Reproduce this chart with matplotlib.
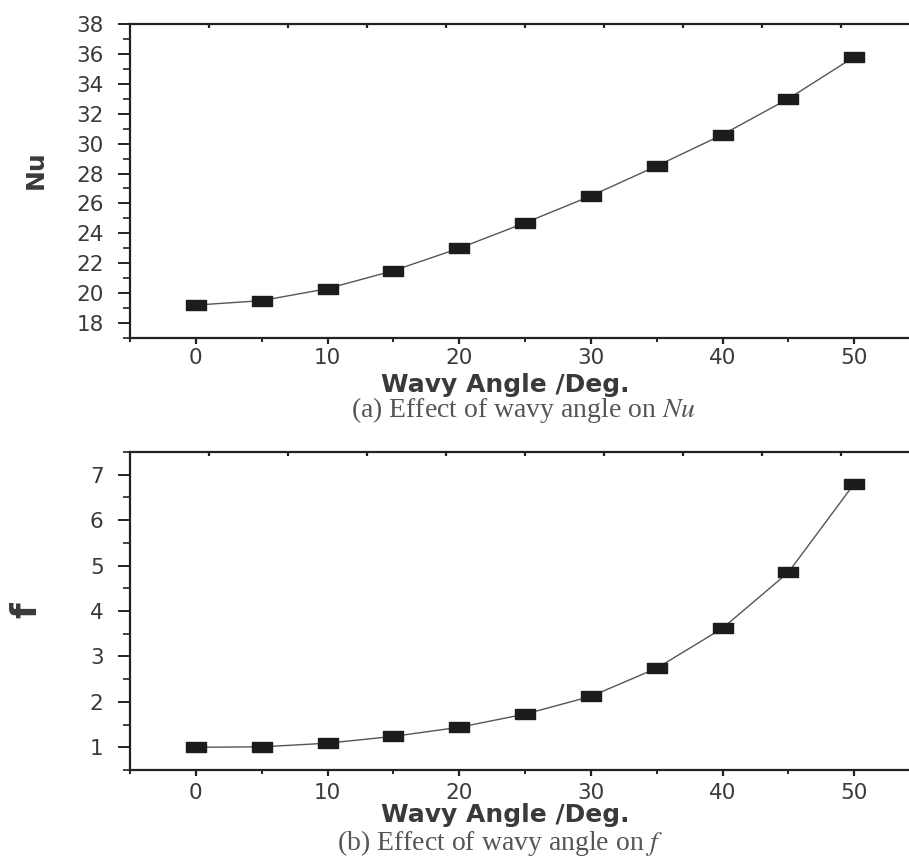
import matplotlib
matplotlib.use("Agg")
import matplotlib.pyplot as plt
from matplotlib.ticker import MultipleLocator
from matplotlib.path import Path

angles = [0, 5, 10, 15, 20, 25, 30, 35, 40, 45, 50]
nu_values = [19.2, 19.5, 20.3, 21.5, 23.0, 24.7, 26.5, 28.5, 30.6, 33.0, 35.8]
f_values = [1.0, 1.01, 1.09, 1.24, 1.44, 1.73, 2.12, 2.74, 3.62, 4.85, 6.80]
top_ticks = [1, 7, 13, 19, 25, 31, 37, 43, 49]

xlabel = "Wavy Angle /Deg."
caption_a = r"(a) Effect of wavy angle on $\mathit{Nu}$"
caption_b = r"(b) Effect of wavy angle on $\mathit{f}$"

plt.rcParams['mathtext.fontset'] = 'stix'
plt.rcParams['font.family'] = ['DejaVu Sans']

W, H = 909, 858
fig = plt.figure(figsize=(W / 100, H / 100), dpi=100)

rect_marker = Path([(-1, -0.5), (1, -0.5), (1, 0.5), (-1, 0.5), (-1, -0.5)],
                   [Path.MOVETO, Path.LINETO, Path.LINETO, Path.LINETO, Path.CLOSEPOLY])

text_col = '#3a3a3a'
line_col = '#222222'
L, R = 130, 920


def px_rect(left, top, right, bottom):
    return [left / W, 1 - bottom / H, (right - left) / W, (bottom - top) / H]


def style(ax, ymajor, yminor, xpad):
    ax.set_xlim(-5, 55)
    ax.xaxis.set_major_locator(MultipleLocator(10))
    ax.xaxis.set_minor_locator(MultipleLocator(5))
    ax.yaxis.set_major_locator(MultipleLocator(ymajor))
    ax.yaxis.set_minor_locator(MultipleLocator(yminor))
    for s in ax.spines.values():
        s.set_linewidth(1.6)
        s.set_color(line_col)
    ax.tick_params(axis='y', which='major', direction='out', length=9, width=1.4,
                   labelsize=15.5, labelcolor=text_col, color=line_col, pad=10)
    ax.tick_params(axis='y', which='minor', direction='out', length=5, width=1.2,
                   color=line_col)
    ax.tick_params(axis='x', which='major', direction='out', length=4.5, width=1.6,
                   labelsize=15.5, labelcolor=text_col, color=line_col, pad=xpad)
    ax.tick_params(axis='x', which='minor', direction='out', length=3, width=1.4,
                   color=line_col)
    sec = ax.secondary_xaxis('top')
    sec.set_xticks(top_ticks)
    sec.tick_params(direction='in', length=3, width=1.6, labeltop=False, color=line_col)
    sec.spines['top'].set_visible(False)


def place_labels(ax, top, bottom, xl_y, yl_x, yl_y):
    ax.xaxis.label.set_va('center')
    ax.xaxis.set_label_coords((505 - L) / (R - L), -(xl_y - bottom) / (bottom - top))
    ax.yaxis.label.set_va('center')
    ax.yaxis.label.set_ha('center')
    ax.yaxis.set_label_coords((yl_x - L) / (R - L), (bottom - yl_y) / (bottom - top))


# Top panel
T1, B1 = 24, 338
ax1 = fig.add_axes(px_rect(L, T1, R, B1))
ax1.plot(angles, nu_values, color='#555555', lw=1.0, marker=rect_marker,
         markersize=14, markerfacecolor='#1c1c1c', markeredgecolor='#1c1c1c')
ax1.set_ylim(17, 38)
style(ax1, 2, 1, 3)
ax1.set_xlabel(xlabel, fontsize=18, fontweight='bold', color=text_col)
ax1.set_ylabel("Nu", fontsize=18, fontweight='bold', color=text_col)
place_labels(ax1, T1, B1, 385, 36, 170)
fig.text(523 / W, 1 - 410 / H, caption_a, ha='center', va='center', fontsize=20,
         family='Liberation Serif', color='#555555')

# Bottom panel
T2, B2 = 452, 770
ax2 = fig.add_axes(px_rect(L, T2, R, B2))
ax2.plot(angles, f_values, color='#555555', lw=1.0, marker=rect_marker,
         markersize=14, markerfacecolor='#1c1c1c', markeredgecolor='#1c1c1c')
ax2.set_ylim(0.5, 7.5)
style(ax2, 1, 0.5, 5)
ax2.set_xlabel(xlabel, fontsize=18, fontweight='bold', color=text_col)
ax2.set_ylabel("f", fontsize=26, fontweight='bold', color=text_col)
place_labels(ax2, T2, B2, 815, 26, 610)
fig.text(500 / W, 1 - 843 / H, caption_b, ha='center', va='center', fontsize=20,
         family='Liberation Serif', color='#555555')

fig.savefig("out.png", dpi=100)
